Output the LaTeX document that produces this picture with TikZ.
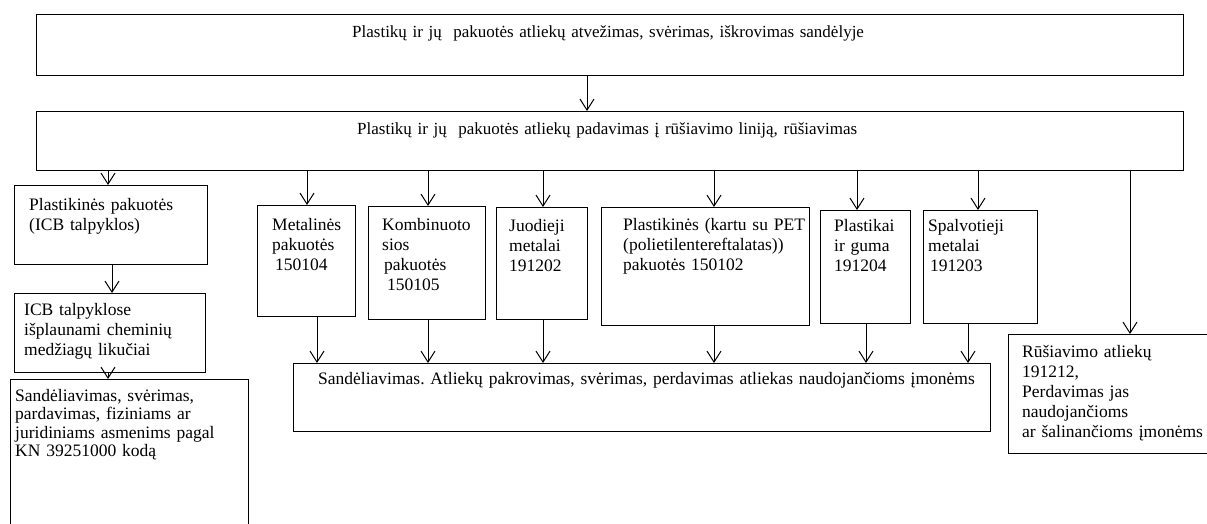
\documentclass[tikz,border=0pt]{standalone}
\usepackage{fontspec}
\setmainfont{Liberation Serif}
\usetikzlibrary{arrows.meta}
\frenchspacing
\begin{document}
\begin{tikzpicture}[x=1pt,y=-1pt,
  box/.style={draw,line width=1.1pt,anchor=north west,inner sep=0pt},
  txt/.style={anchor=base west,align=left,inner sep=0pt,text width=#1,
    font=\fontsize{17.5}{20}\selectfont},
  arr/.style={line width=1pt,-{Straight Barb[length=11pt,width=14pt]}}]
\clip (0,0) rectangle (1207,524);
\node[box,minimum width=1147pt,minimum height=61pt] (top) at (36,14) {};
\node[box,minimum width=1147pt,minimum height=59pt] (sort) at (36,111) {};
\node[box,minimum width=193pt,minimum height=79pt] (pl) at (14,185) {};
\node[box,minimum width=191pt,minimum height=79pt] (icb) at (14,293) {};
\node[box,minimum width=238pt,minimum height=160pt] (sand) at (10,379) {};
\node[box,minimum width=98pt,minimum height=111pt] (met) at (257,205) {};
\node[box,minimum width=117pt,minimum height=113pt] (komb) at (368,206) {};
\node[box,minimum width=91pt,minimum height=112pt] (juod) at (496,207) {};
\node[box,minimum width=208pt,minimum height=118pt] (pet) at (601,207) {};
\node[box,minimum width=90pt,minimum height=113pt] (pg) at (820,210) {};
\node[box,minimum width=114pt,minimum height=113pt] (spalv) at (923,210) {};
\node[box,minimum width=697pt,minimum height=68pt] (store) at (293,363) {};
\node[box,minimum width=210pt,minimum height=119pt] (rus) at (1008,334) {};

\node[txt=820pt,font=\fontsize{17}{20}\selectfont] (top-t) at (352,38) {Plastikų ir jų~ pakuotės atliekų atvežimas, svėrimas, iškrovimas sandėlyje};
\node[txt=820pt,font=\fontsize{17}{20}\selectfont] (sort-t) at (357,135) {Plastikų ir jų~ pakuotės atliekų padavimas į rūšiavimo liniją, rūšiavimas};
\node[txt=180pt] (pl-t) at (29,210) {Plastikinės pakuotės\\(ICB talpyklos)};
\node[txt=180pt] (icb-t) at (24,315) {ICB talpyklose\\išplaunami cheminių\\medžiagų likučiai};
\node[txt=230pt,font=\fontsize{17.5}{18.5}\selectfont] (sand-t) at (15,401) {Sandėliavimas, svėrimas,\\pardavimas, fiziniams ar\\juridiniams asmenims pagal\\KN 39251000 kodą};
\node[txt=90pt] (met-t) at (272,230) {Metalinės\\pakuotės\\\hspace{3pt}150104};
\node[txt=110pt] (komb-t) at (382,230) {Kombinuoto\\sios\\\hspace{2pt}pakuotės\\\hspace{5pt}150105};
\node[txt=85pt] (juod-t) at (509,231) {Juodieji\\metalai\\191202};
\node[txt=190pt] (pet-t) at (623,230) {Plastikinės (kartu su PET\\(polietilentereftalatas))\\pakuotės 150102};
\node[txt=80pt] (pg-t) at (834,231) {Plastikai\\ir guma\\191204};
\node[txt=110pt] (spalv-t) at (928,231) {Spalvotieji\\metalai\\\hspace{2pt}191203};
\node[txt=680pt] (store-t) at (318,384) {Sandėliavimas. Atliekų pakrovimas, svėrimas, perdavimas atliekas naudojančioms įmonėms};
\node[txt=195pt] (rus-t) at (1022,357) {Rūšiavimo atliekų\\191212,\\Perdavimas jas\\naudojančioms\\ar šalinančioms įmonėms};

\draw[arr] (top.south -| 587,0) -- (sort.north -| 587,0);
\draw[arr] (sort.south -| 108,0) -- (pl.north -| 108,0);
\draw[arr] (sort.south -| 307,0) -- (met.north -| 307,0);
\draw[arr] (sort.south -| 428,0) -- (komb.north -| 428,0);
\draw[arr] (sort.south -| 543,0) -- (juod.north -| 543,0);
\draw[arr] (sort.south -| 714,0) -- (pet.north -| 714,0);
\draw[arr] (sort.south -| 857,0) -- (pg.north -| 857,0);
\draw[arr] (sort.south -| 978,0) -- (spalv.north -| 978,0);
\draw[arr] (sort.south -| 1130,0) -- (rus.north -| 1130,0);
\draw[arr] (pl.south -| 112,0) -- (icb.north -| 112,0);
\draw[arr] (icb.south -| 108,0) -- (sand.north -| 108,0);
\draw[arr] (met.south -| 317,0) -- (store.north -| 317,0);
\draw[arr] (komb.south -| 428,0) -- (store.north -| 428,0);
\draw[arr] (juod.south -| 543,0) -- (store.north -| 543,0);
\draw[arr] (pet.south -| 714,0) -- (store.north -| 714,0);
\draw[arr] (pg.south -| 866,0) -- (store.north -| 866,0);
\draw[arr] (spalv.south -| 968,0) -- (store.north -| 968,0);
\end{tikzpicture}
\end{document}
